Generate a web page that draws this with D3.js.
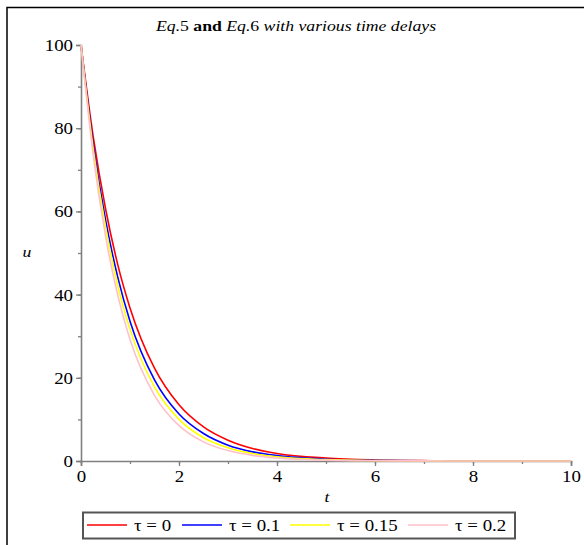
<!DOCTYPE html>
<html>
<head>
<meta charset="utf-8">
<script src="https://cdn.jsdelivr.net/npm/d3@7"></script>
<style>
  body { margin: 0; background: #fff; }
  svg text { font-family: 'Liberation Serif', 'DejaVu Serif', Tinos, 'Times New Roman', serif !important; }
</style>
</head>
<body>
<div id="container"></div>
<script>
// values
var times   = [0, 0.25, 0.5, 0.75, 1, 1.5, 2, 2.5, 3, 3.5, 4, 5, 6, 7, 8, 9, 10];
var tau0    = [100, 77.9, 60.7, 47.2, 36.8, 22.3, 13.5, 8.2, 5.0, 3.0, 1.8, 0.7, 0.25, 0.09, 0.03, 0.01, 0.005];
var tau01   = [100, 76.1, 58.0, 44.2, 33.6, 19.5, 11.3, 6.6, 3.8, 2.2, 1.3, 0.43, 0.14, 0.05, 0.02, 0.01, 0];
var tau015  = [100, 75.0, 56.3, 42.2, 31.7, 17.8, 10.0, 5.6, 3.2, 1.8, 1.0, 0.32, 0.1, 0.03, 0.01, 0, 0];
var tau02   = [100, 73.5, 54.1, 39.8, 29.2, 15.8, 8.5, 4.6, 2.5, 1.35, 0.73, 0.21, 0.06, 0.02, 0.005, 0, 0];
var seriesNames = ['τ = 0', 'τ = 0.1', 'τ = 0.15', 'τ = 0.2'];
var seriesValues = [tau0, tau01, tau015, tau02];
var colors = ['#ff0000', '#0000ff', '#ffff00', '#ffc0cb'];
var xTicks = [0, 2, 4, 6, 8, 10];
var yTicks = [0, 20, 40, 60, 80, 100];

const width = 584;
const height = 545;
const stretch = 1.18;   // the source picture is a bit wider than tall

const svg = d3.select('#container')
    .append('svg')
    .attr('width', width)
    .attr('height', height);

// put text at (px,py) and widen it horizontally
function place(sel, px, py) {
    sel.attr('x', 0).attr('y', 0)
       .attr('transform', 'translate(' + px + ',' + py + ') scale(' + stretch + ',1)');
    return sel;
}

// frame
svg.append('path')
    .attr('d', 'M7,545 V7.5 H584')
    .attr('fill', 'none')
    .attr('stroke', '#000')
    .attr('stroke-width', 1.5);

const x = d3.scaleLinear().domain([0, 10]).range([81, 571]);
const y = d3.scaleLinear().domain([0, 100]).range([461, 45]);

const axisColor = '#808080';

/* AXES */
const gx = svg.append('g').attr('transform', 'translate(0,' + y(0) + ')');
gx.append('g')
    .call(d3.axisBottom(x).ticks(10).tickSize(3).tickFormat(''))
    .call(g => g.select('.domain').remove());
gx.append('g')
    .call(d3.axisBottom(x).tickValues(xTicks).tickSize(5).tickFormat(d3.format('d')))
    .call(g => g.select('.domain').attr('stroke', axisColor).attr('stroke-width', 1.6));
gx.selectAll('line').attr('stroke', axisColor).attr('stroke-width', 1.3);
gx.selectAll('text')
    .attr('fill', '#000')
    .attr('dy', null)
    .style('font-size', '16px')
    .call(s => place(s, 0, 21));

const gy = svg.append('g').attr('transform', 'translate(' + x(0) + ',0)');
gy.append('g')
    .call(d3.axisLeft(y).ticks(10).tickSize(3).tickFormat(''))
    .call(g => g.select('.domain').remove());
gy.append('g')
    .call(d3.axisLeft(y).tickValues(yTicks).tickSize(5).tickFormat(d3.format('d')))
    .call(g => g.select('.domain').attr('stroke', axisColor).attr('stroke-width', 1.6));
gy.selectAll('line').attr('stroke', axisColor).attr('stroke-width', 1.3);
gy.selectAll('text')
    .attr('fill', '#000')
    .attr('dy', null)
    .style('font-size', '16px')
    .call(s => place(s, -8, 5.5));

/* CURVES */
const line = d3.line()
    .x((d, i) => x(times[i]))
    .y(d => y(d))
    .curve(d3.curveMonotoneX);

svg.append('g')
    .selectAll('path')
    .data(seriesValues)
    .enter().append('path')
    .attr('d', d => line(d))
    .attr('fill', 'none')
    .attr('stroke', (d, i) => colors[i])
    .attr('stroke-width', 1.6);

/* LABELS */
const title = svg.append('text')
    .attr('text-anchor', 'middle')
    .style('font-size', '15px')
    .call(s => place(s, 296, 31));
title.append('tspan').style('font-style', 'italic').text('Eq.');
title.append('tspan').text('5 ');
title.append('tspan').style('font-weight', 'bold').text('and ');
title.append('tspan').style('font-style', 'italic').text('Eq.');
title.append('tspan').text('6 ');
title.append('tspan').style('font-style', 'italic').text('with various time delays');

svg.append('text')
    .attr('text-anchor', 'middle')
    .style('font-style', 'italic')
    .style('font-size', '15px')
    .text('u')
    .call(s => place(s, 27, 257));

svg.append('text')
    .attr('text-anchor', 'middle')
    .style('font-style', 'italic')
    .style('font-size', '15px')
    .text('t')
    .call(s => place(s, 327, 502));

/* LEGEND */
const legend = svg.append('g').attr('id', 'legend');
legend.append('rect')
    .attr('x', 83)
    .attr('y', 512.5)
    .attr('width', 432)
    .attr('height', 26)
    .attr('fill', '#fff')
    .attr('stroke', '#555')
    .attr('stroke-width', 2);

var legendX = [87, 182, 290, 408];
const items = legend.selectAll('g.item')
    .data(seriesNames)
    .enter().append('g')
    .attr('class', 'item')
    .attr('transform', (d, i) => 'translate(' + legendX[i] + ',525)');
items.append('line')
    .attr('x1', 0).attr('x2', 40)
    .attr('stroke', (d, i) => colors[i])
    .attr('stroke-width', 1.6);
items.append('text')
    .style('font-size', '16px')
    .text(d => d)
    .call(s => place(s, 47, 6));
</script>
</body>
</html>
